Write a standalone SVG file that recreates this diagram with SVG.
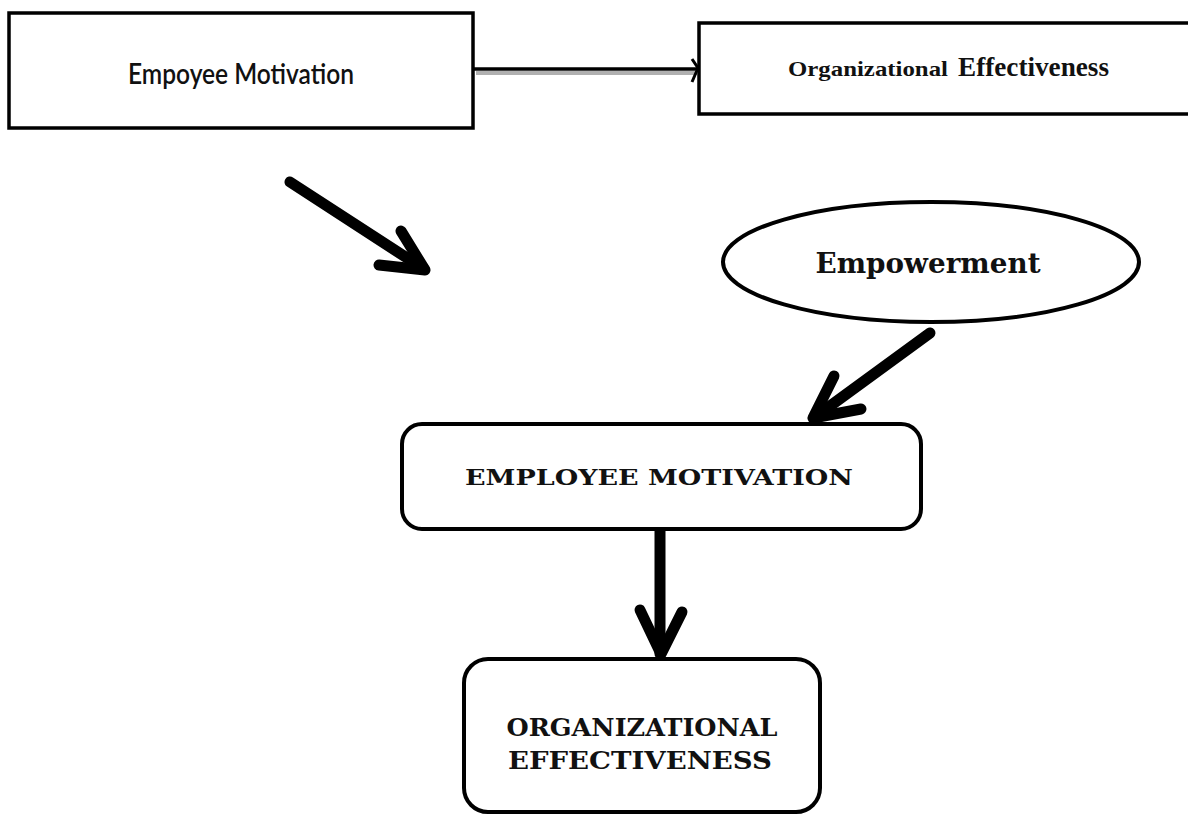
<svg xmlns="http://www.w3.org/2000/svg" width="1188" height="816" viewBox="0 0 1188 816">
  <style>
    .box { fill: #ffffff; stroke: #000000; stroke-width: 3.5; }
    .rbox { fill: #ffffff; stroke: #000000; stroke-width: 4; }
    .thick { fill: none; stroke: #000000; stroke-width: 11; stroke-linecap: round; stroke-linejoin: round; }
    .sans { font-family: Lato, "Open Sans", "Liberation Sans", sans-serif; fill: #111; }
    .times { font-family: "Liberation Serif", "Times New Roman", serif; font-weight: bold; fill: #111; }
    .slab { font-family: "DejaVu Serif", "Liberation Serif", serif; font-weight: bold; fill: #111; }
  </style>
  <rect width="1188" height="816" fill="#ffffff"/>

  <g id="connectors">
    <line x1="474" y1="69" x2="697" y2="69" stroke="#000" stroke-width="3.5"/>
    <line x1="476" y1="73" x2="697" y2="73" stroke="#b0b0b0" stroke-width="4"/>
    <polyline points="692,59 698,68 692,82" fill="none" stroke="#000" stroke-width="3"/>

    <line class="thick" x1="290" y1="182" x2="424" y2="269"/>
    <polyline class="thick" points="401,231 425,270 379,265"/>

    <line class="thick" x1="930" y1="333" x2="815" y2="417"/>
    <polyline class="thick" points="834,376 813,418 861,409"/>

    <line class="thick" x1="660" y1="531" x2="660" y2="654"/>
    <polyline class="thick" points="640,610 661,654 682,612"/>
  </g>

  <g id="node-employee-motivation-top">
    <rect class="box" x="9" y="13" width="464" height="115"/>
    <text class="sans" x="241" y="84" font-size="28" font-weight="600" text-anchor="middle" textLength="226" lengthAdjust="spacingAndGlyphs">Empoyee Motivation</text>
  </g>

  <g id="node-organizational-effectiveness-top">
    <rect class="box" x="699" y="23" width="500" height="91"/>
    <text class="times" x="788" y="76" font-size="22"><tspan textLength="160" lengthAdjust="spacingAndGlyphs">Organizational</tspan><tspan x="958" font-size="27" textLength="151" lengthAdjust="spacingAndGlyphs">Effectiveness</tspan></text>
  </g>

  <g id="node-empowerment">
    <ellipse cx="931" cy="262" rx="208" ry="60" fill="#fff" stroke="#000" stroke-width="4"/>
    <text class="slab" x="928" y="273" font-size="27" text-anchor="middle" textLength="225" lengthAdjust="spacingAndGlyphs">Empowerment</text>
  </g>

  <g id="node-employee-motivation">
    <rect class="rbox" x="402" y="424" width="519" height="105" rx="20" ry="20"/>
    <text class="slab" x="659" y="485" font-size="22" text-anchor="middle" textLength="388" lengthAdjust="spacingAndGlyphs">EMPLOYEE MOTIVATION</text>
  </g>

  <g id="node-organizational-effectiveness">
    <rect class="rbox" x="464" y="659" width="356" height="153" rx="24" ry="24"/>
    <text class="slab" x="642" y="736" font-size="25" text-anchor="middle" textLength="271" lengthAdjust="spacingAndGlyphs">ORGANIZATIONAL</text>
    <text class="slab" x="640" y="769" font-size="25" text-anchor="middle" textLength="264" lengthAdjust="spacingAndGlyphs">EFFECTIVENESS</text>
  </g>
</svg>
